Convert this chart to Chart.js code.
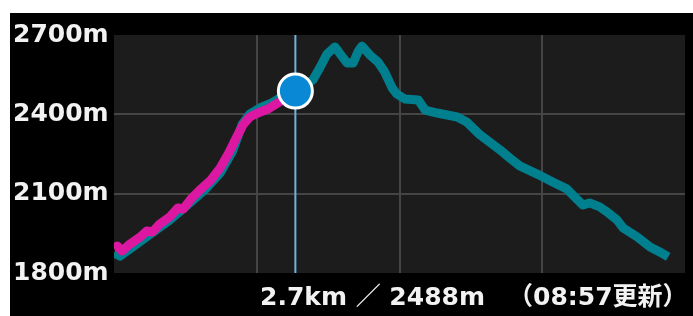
<!DOCTYPE html>
<html>
<head>
<meta charset="utf-8">
<script src="https://cdn.jsdelivr.net/npm/chart.js@4.4.1/dist/chart.umd.min.js"></script>
<style>
  html, body { margin: 0; padding: 0; background: #fff; }
  #wrap { position: absolute; left: 10px; top: 13px; width: 683px; height: 303px; background: #000; }
</style>
</head>
<body>
<div id="wrap"><canvas id="elevChart"></canvas></div>
<script>
// planned route (km / m)
const routeKm = [0.00, 0.09, 0.24, 0.54, 0.83, 1.13, 1.35, 1.58, 1.76, 1.91, 2.02, 2.17, 2.35, 2.52, 2.70,
  2.84, 2.96, 3.07, 3.17, 3.29, 3.38, 3.47, 3.56, 3.63, 3.69, 3.81, 3.93, 4.03, 4.14, 4.21, 4.33, 4.53,
  4.63, 4.81, 5.11, 5.25, 5.45, 5.75, 5.89, 6.04, 6.30, 6.53, 6.74, 6.86, 6.98, 7.08, 7.23, 7.34, 7.49,
  7.58, 7.79, 7.98, 8.13, 8.25];
const routeElev = [1876, 1864, 1891, 1947, 2000, 2065, 2114, 2178, 2258, 2363, 2401, 2424, 2443, 2469, 2488,
  2507, 2530, 2579, 2628, 2655, 2624, 2594, 2594, 2636, 2658, 2624, 2598, 2560, 2500, 2477, 2458, 2454,
  2416, 2405, 2390, 2371, 2322, 2265, 2235, 2205, 2174, 2144, 2118, 2087, 2057, 2065, 2050, 2031, 2000,
  1970, 1936, 1898, 1879, 1861];

// walked track so far
const trackKm = [0.00, 0.05, 0.12, 0.24, 0.39, 0.49, 0.57, 0.68, 0.83, 0.95, 1.03, 1.16, 1.28, 1.43, 1.58,
  1.70, 1.82, 1.92, 2.02, 2.14, 2.29, 2.44, 2.59, 2.70];
const trackElev = [1895, 1902, 1883, 1910, 1936, 1959, 1955, 1985, 2012, 2046, 2042, 2084, 2114, 2148, 2197,
  2250, 2311, 2360, 2390, 2405, 2420, 2443, 2469, 2488];

const currentKm = 2.7;
const currentElev = 2488;
const updateTime = '08:57';

const yTicks = [1800, 2100, 2400, 2700];
const xMax = 8.5;
const xGrid = [0, 2.125, 4.25, 6.375, 8.5];

const toPoints = (xs, ys) => xs.map((x, i) => ({ x: x, y: ys[i] }));

const fontFamily = "'DejaVu Sans', 'Noto Sans CJK JP'";
const labelFont = { family: fontFamily, size: 25, weight: 'bold' };

// dark plot background
const plotBg = {
  id: 'plotBg',
  beforeDraw(chart) {
    const { ctx, chartArea } = chart;
    ctx.save();
    ctx.fillStyle = '#1c1c1c';
    ctx.fillRect(chartArea.left, chartArea.top, chartArea.right - chartArea.left, chartArea.bottom - chartArea.top);
    ctx.restore();
  }
};

// readout under the chart
const readout = {
  id: 'readout',
  afterDraw(chart) {
    const { ctx } = chart;
    ctx.save();
    ctx.fillStyle = '#f2f2f2';
    ctx.font = 'bold 25px ' + fontFamily;
    ctx.textBaseline = 'alphabetic';
    ctx.textAlign = 'left';
    ctx.fillText(currentKm + 'km ／ ' + currentElev + 'm', 250, 292);
    ctx.fillText('（' + updateTime + '更新）', 498, 292);
    ctx.restore();
  }
};

new Chart(document.getElementById('elevChart'), {
  type: 'line',
  data: {
    datasets: [
      {
        label: 'current',
        data: [{ x: currentKm, y: currentElev }],
        showLine: false,
        pointRadius: 17,
        pointBackgroundColor: '#0888d5',
        pointBorderColor: '#ffffff',
        pointBorderWidth: 3
      },
      {
        label: 'cursor',
        data: [{ x: currentKm, y: yTicks[0] }, { x: currentKm, y: yTicks[yTicks.length - 1] }],
        borderColor: '#6db4dc',
        borderWidth: 2,
        pointRadius: 0
      },
      {
        label: 'track',
        data: toPoints(trackKm, trackElev),
        borderColor: '#dc18a2',
        borderWidth: 9,
        borderJoinStyle: 'round',
        pointRadius: 0
      },
      {
        label: 'route',
        data: toPoints(routeKm, routeElev),
        borderColor: '#007f8e',
        borderWidth: 9,
        borderJoinStyle: 'round',
        pointRadius: 0
      }
    ]
  },
  options: {
    responsive: true,
    maintainAspectRatio: false,
    animation: false,
    layout: { autoPadding: false, padding: { left: 3, right: 8, top: 22, bottom: 43 } },
    scales: {
      x: {
        type: 'linear',
        min: 0,
        max: xMax,
        afterBuildTicks: (axis) => { axis.ticks = xGrid.map(v => ({ value: v })); },
        afterFit: (axis) => { axis.height = 0; },
        ticks: { display: false },
        border: { display: false },
        grid: {
          drawTicks: false,
          lineWidth: 2,
          color: (c) => (c.index === 0 || c.index === xGrid.length - 1) ? 'rgba(0,0,0,0)' : '#454545'
        }
      },
      y: {
        min: yTicks[0],
        max: yTicks[yTicks.length - 1],
        afterBuildTicks: (axis) => { axis.ticks = yTicks.map(v => ({ value: v })); },
        afterFit: (axis) => { axis.width = 101; },
        border: { display: false },
        grid: {
          drawTicks: false,
          lineWidth: 2,
          color: (c) => (c.index === 0 || c.index === yTicks.length - 1) ? 'rgba(0,0,0,0)' : '#454545'
        },
        ticks: {
          color: '#f2f2f2',
          font: labelFont,
          crossAlign: 'far',
          padding: 0,
          callback: (v) => v + 'm'
        }
      }
    },
    plugins: {
      legend: { display: false },
      tooltip: { enabled: false }
    }
  },
  plugins: [plotBg, readout]
});
</script>
</body>
</html>
